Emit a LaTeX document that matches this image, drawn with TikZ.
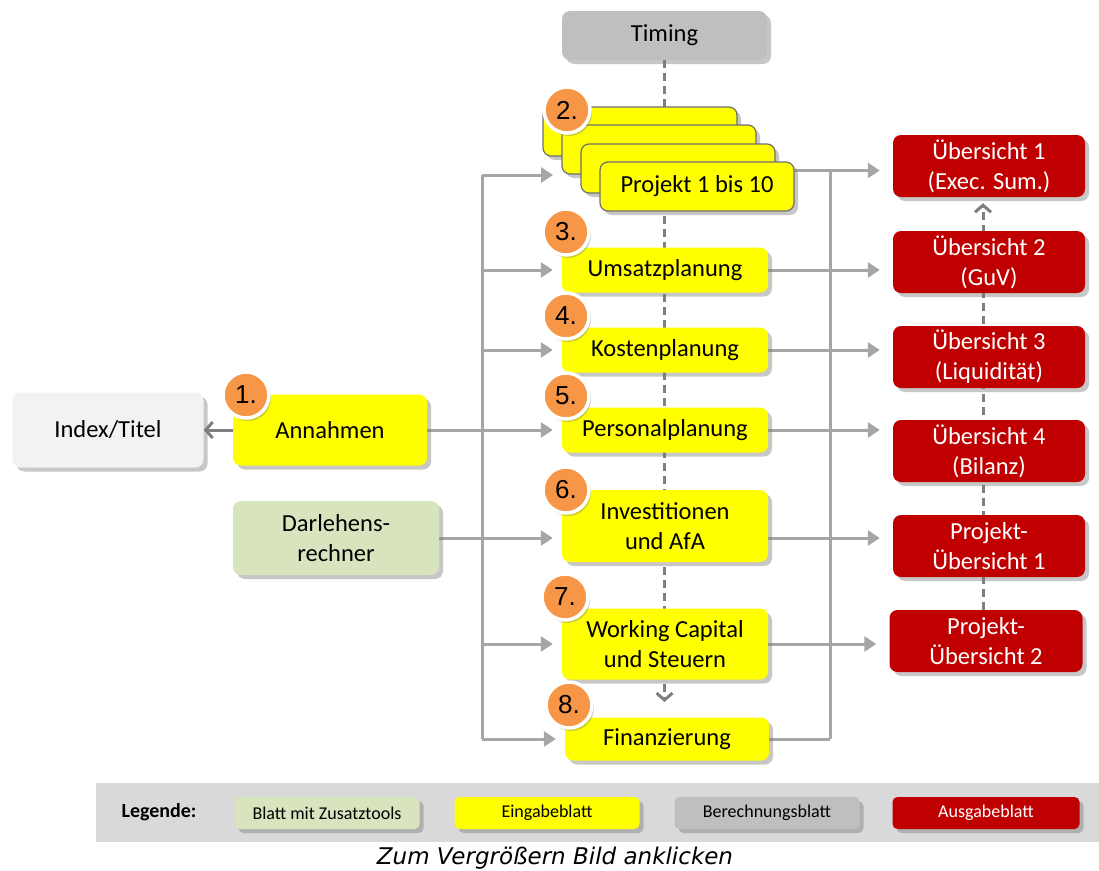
\documentclass[tikz,border=0pt]{standalone}
\usepackage{fontspec}
\setmainfont{Carlito}
\newfontfamily\badgefont{Liberation Sans}
\newfontfamily\capfont{DejaVu Sans}[ItalicFont={DejaVu Sans Oblique}]
\usetikzlibrary{arrows.meta,shadows,backgrounds}

\definecolor{gelb}{HTML}{FFFF00}
\definecolor{rot}{HTML}{C00000}
\definecolor{gruen}{HTML}{D7E4BD}
\definecolor{grau}{HTML}{BFBFBF}
\definecolor{hellgrau}{HTML}{F2F2F2}
\definecolor{orangeb}{HTML}{F79646}
\definecolor{linegray}{HTML}{A6A6A6}
\definecolor{dashgray}{HTML}{7F7F7F}
\definecolor{stackgray}{HTML}{6F6F6F}
\definecolor{band}{HTML}{D9D9D9}

\begin{document}
\begin{tikzpicture}[x=1pt, y=-1pt, every node/.style={font=\fontsize{24.5}{30}\selectfont, align=center},
	blatt/.style={rounded corners=8pt, inner sep=0pt, drop shadow={shadow xshift=4pt, shadow yshift=-4pt, fill=black!55, opacity=0.4}},
	eingabe/.style={blatt, fill=gelb, minimum width=206pt},
	ausgabe/.style={blatt, fill=rot, text=white, minimum width=192pt, minimum height=62pt},
	badge/.style={circle, fill=orangeb, draw=white, line width=3.5pt, minimum size=46pt, inner sep=0pt, font=\badgefont\fontsize{26}{26}\selectfont, drop shadow={shadow xshift=2pt, shadow yshift=-3pt, fill=black!55, opacity=0.35}},
	legbox/.style={blatt, rounded corners=5pt, minimum width=185pt, minimum height=32pt, font=\fontsize{18}{20}\selectfont},
	feed/.style={draw=linegray, line width=3pt, -{Triangle[length=12pt,width=15pt]}},
	bus/.style={draw=linegray, line width=3pt},
	timeline/.style={draw=dashgray, line width=3pt, dash pattern=on 8pt off 5pt, -{Straight Barb[length=7pt,width=16pt]}},
	backarrow/.style={draw=dashgray, line width=3pt, -{Straight Barb[length=7pt,width=16pt]}}]
	\useasboundingbox (0,0) rectangle (1099,870);

	\node[blatt, fill=grau, minimum width=205pt, minimum height=49pt] (timing) at (664.5,35.5) {Timing};
	\node[blatt, fill=hellgrau, minimum width=191pt, minimum height=75pt] (titel) at (108,430) {Index/Titel};
	\node[eingabe, minimum width=194pt, minimum height=71pt] (annahmen) at (330,430) {Annahmen};
	\node[blatt, fill=gruen, minimum width=206pt, minimum height=74pt] (darlehen) at (336,538) {Darlehens-\\rechner};

	\foreach \i/\x/\y in {1/640/131.5, 2/659/149.5, 3/678/168.5}
		\node[eingabe, draw=stackgray, line width=1.2pt, minimum width=194pt, minimum height=49pt] (p\i) at (\x,\y) {};
	\node[eingabe, draw=stackgray, line width=1.2pt, minimum width=194pt, minimum height=49pt] (p4) at (697,186.5) {Projekt 1 bis 10};

	\node[eingabe, minimum height=45pt] (umsatz) at (665,270) {Umsatzplanung};
	\node[eingabe, minimum height=45pt] (kosten) at (665,350) {Kostenplanung};
	\node[eingabe, minimum height=45pt] (personal) at (665,430) {Personalplanung};
	\node[eingabe, minimum height=72pt] (invest) at (665,526) {Investitionen\\und AfA};
	\node[eingabe, minimum height=71pt] (wc) at (665,644) {Working Capital\\und Steuern};
	\node[eingabe, minimum width=204pt, minimum height=43pt] (finanz) at (667,739) {Finanzierung};

	\node[ausgabe] (ue1) at (989,166) {Übersicht 1\\(Exec. Sum.)};
	\node[ausgabe] (ue2) at (989,262) {Übersicht 2\\(GuV)};
	\node[ausgabe] (ue3) at (989,357) {Übersicht 3\\(Liquidität)};
	\node[ausgabe] (ue4) at (989,451) {Übersicht 4\\(Bilanz)};
	\node[ausgabe] (pue1) at (989,546) {Projekt-\\Übersicht 1};
	\node[ausgabe, minimum width=193pt] (pue2) at (986,641) {Projekt-\\Übersicht 2};

	\foreach \n/\x/\y in {1/246/395, 2/567/110, 3/566/232, 4/566/316, 5/566/396, 6/566/490, 7/565/597, 8/569/705}
		\node[badge] (b\n) at (\x,\y) {\n.};

	\coordinate (lbus) at (482,0);
	\coordinate (rbus) at (830,0);
	\coordinate (pin) at (553,175);
	\coordinate (pout) at ([yshift=16pt]p4.east);
	\coordinate (tend) at (664.5,702);
	\coordinate (rdash) at (983,0);

	\begin{pgfonlayer}{background}
		\draw[timeline] (timing) -- (tend);
		\draw[timeline, shorten >=6pt] (rdash |- pue2.north) -- (rdash |- ue1.south);
		\draw[backarrow] (annahmen) -- (titel);
		\draw[bus] (lbus |- pin) -- (lbus |- finanz);
		\draw[feed] (lbus |- pin) -- (pin);
		\foreach \n in {umsatz,kosten,wc,finanz}
			\draw[feed, shorten >=9pt] (lbus |- \n) -- (\n);
		\draw[feed, shorten >=9pt] (annahmen) -- (personal);
		\draw[feed, shorten >=9pt] (darlehen) -- (invest.west |- darlehen);
		\draw[feed, shorten >=13pt] (pout) -- (ue1.west |- pout);
		\draw[bus] (rbus |- pout) -- (rbus |- finanz);
		\draw[bus] (finanz) -- (rbus |- finanz);
		\foreach \a/\b in {umsatz/ue2, kosten/ue3, personal/ue4, wc/pue2}
			\draw[feed, shorten >=13pt] (\a) -- (\b.west |- \a);
		\draw[feed, shorten >=13pt] (invest.east |- darlehen) -- (pue1.west |- darlehen);
	\end{pgfonlayer}

	\node[fill=band, minimum width=1003pt, minimum height=59pt, inner sep=0pt] (legende) at (597.5,812.5) {};
	\node[font=\bfseries\fontsize{20}{22}\selectfont] (legtitel) at (159,812) {Legende:};
	\node[legbox, fill=gruen] (lg1) at (327,813) {Blatt mit Zusatztools};
	\node[legbox, fill=gelb] (lg2) at (547,813) {Eingabeblatt};
	\node[legbox, fill=grau] (lg3) at (767,813) {Berechnungsblatt};
	\node[legbox, fill=rot, text=white, minimum width=187pt] (lg4) at (986,813) {Ausgabeblatt};
	\node[font=\capfont\itshape\fontsize{23}{26}\selectfont] (hinweis) at (555,858) {Zum Vergrößern Bild anklicken};
\end{tikzpicture}
\end{document}
